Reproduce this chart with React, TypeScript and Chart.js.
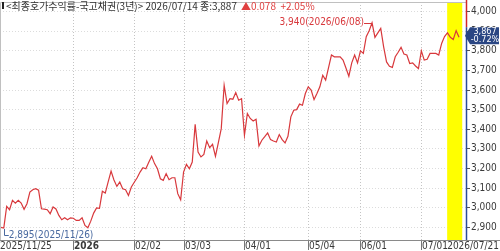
import React, { useEffect, useRef } from "react";
import { Chart, registerables } from "chart.js";

Chart.register(...registerables);

// daily closing yields (trading-day index 0 = 2025/11/25)
const values: number[] = [
  2898, 2895, 3005, 2988, 3036, 3022, 3036, 3022, 2990, 3019,
  3078, 3090, 3095, 3088, 2993, 2991, 2988, 2968, 3002, 2992,
  2959, 2937, 2947, 2937, 2947, 2945, 2934, 2934, 2947, 2908,
  2896, 2930, 2971, 2997, 2995, 3082, 3073, 3130, 3185, 3140,
  3107, 3129, 3095, 3090, 3061, 3104, 3128, 3151, 3180, 3202,
  3197, 3230, 3260, 3223, 3197, 3146, 3138, 3172, 3141, 3151,
  3151, 3070, 3039, 3180, 3219, 3197, 3231, 3423, 3282, 3257,
  3270, 3338, 3304, 3321, 3260, 3330, 3401, 3622, 3529, 3554,
  3551, 3585, 3546, 3554, 3367, 3478, 3453, 3440, 3449, 3313,
  3342, 3360, 3379, 3345, 3338, 3333, 3371, 3345, 3328, 3362,
  3461, 3495, 3498, 3526, 3520, 3580, 3614, 3597, 3549, 3580,
  3614, 3673, 3648, 3712, 3776, 3767, 3767, 3767, 3750, 3710,
  3668, 3736, 3776, 3736, 3797, 3784, 3869, 3900, 3940, 3866,
  3889, 3912, 3818, 3741, 3719, 3713, 3767, 3790, 3815, 3781,
  3776, 3733, 3736, 3720, 3707, 3797, 3750, 3754, 3784, 3784,
  3784, 3776, 3835, 3870, 3889, 3866, 3855, 3900, 3867,
];

const tickIndex: number[] = [0, 25, 46, 63, 84, 106, 124, 145];
const tickLabels: string[] = ["2025/11/25", "2026", "02/02", "03/03", "04/01", "05/04", "06/01", "07/01"];
const boldTick = "2026";
const endLabel = "2026/07/21";
const xMin = -0.3;
const xMax = 160.4;

const yTicks: number[] = [2900, 3000, 3100, 3200, 3300, 3400, 3500, 3600, 3700, 3800, 3900, 4000];
const yMin = 2834;
const yMax = 4046;

const headerTitle = "<최종호가수익률-국고채권(3년)> 2026/07/14 종:3,887";
const headerChange = "▲0.078  +2.05%";

const maxIndex = 128;
const maxLabel = "3,940(2026/06/08)";
const minIndex = 1;
const minLabel = "2,895(2025/11/26)";

const lastLabel = "3,867";
const lastChange = "-0.72%";

const bandStart = 153.9;
const bandEnd = 159.1;

const fmt = (v: number) => v.toLocaleString("en-US");

const NUM_FONT = "'Liberation Sans Narrow', 'DejaVu Sans Condensed', 'Liberation Sans', sans-serif";
const KR_FONT = "'Noto Sans CJK KR', 'Liberation Sans', sans-serif";

const LINE_RED = "#d8383c";
const AXIS_BLUE = "#2c4d96";

const decorPlugin = {
  id: "decor",
  beforeDraw(chart: any) {
    const { ctx, chartArea: a, scales } = chart;
    const x = scales.x;
    const y = scales.y;
    ctx.save();
    ctx.fillStyle = "#ffffff";
    ctx.fillRect(0, 0, chart.width, chart.height);
    // horizontal grid
    ctx.strokeStyle = "#dcdcdc";
    ctx.lineWidth = 1;
    ctx.setLineDash([1, 2]);
    for (const t of yTicks) {
      const py = Math.round(y.getPixelForValue(t)) + 0.5;
      ctx.beginPath();
      ctx.moveTo(a.left, py);
      ctx.lineTo(a.right, py);
      ctx.stroke();
    }
    // vertical grid
    ctx.strokeStyle = "#c4c4c4";
    for (let k = 1; k < tickIndex.length; k++) {
      const px = Math.round(x.getPixelForValue(tickIndex[k])) + 0.5;
      ctx.beginPath();
      ctx.moveTo(px, a.top);
      ctx.lineTo(px, a.bottom);
      ctx.stroke();
    }
    ctx.setLineDash([]);
    ctx.restore();
  },
  beforeDatasetsDraw(chart: any) {
    const { ctx, chartArea: a, scales } = chart;
    const x = scales.x;
    ctx.save();
    ctx.fillStyle = "#ffff00";
    const x0 = x.getPixelForValue(bandStart);
    const x1 = x.getPixelForValue(bandEnd);
    ctx.fillRect(x0, a.top, x1 - x0, a.bottom - a.top);
    ctx.restore();
  },
  afterDraw(chart: any) {
    const { ctx, chartArea: a, scales } = chart;
    const x = scales.x;
    const y = scales.y;
    ctx.save();
    // frame
    ctx.strokeStyle = "#c0c0c0";
    ctx.lineWidth = 1;
    ctx.beginPath();
    ctx.moveTo(a.left + 0.5, a.bottom);
    ctx.lineTo(a.left + 0.5, a.top + 0.5);
    ctx.lineTo(a.right, a.top + 0.5);
    ctx.stroke();
    // x axis line
    ctx.strokeStyle = "#8a8a8a";
    ctx.beginPath();
    ctx.moveTo(a.left, a.bottom + 0.5);
    ctx.lineTo(chart.width, a.bottom + 0.5);
    ctx.stroke();

    // x tick labels
    ctx.textBaseline = "alphabetic";
    ctx.fillStyle = "#3a3a3a";
    for (let k = 0; k < tickIndex.length; k++) {
      const px = Math.round(x.getPixelForValue(tickIndex[k]));
      const lbl = tickLabels[k];
      if (k > 0) {
        ctx.strokeStyle = "#777777";
        ctx.beginPath();
        ctx.moveTo(px + 0.5, a.bottom + 1);
        ctx.lineTo(px + 0.5, a.bottom + 10);
        ctx.stroke();
      }
      ctx.font = (lbl === boldTick ? "bold " : "") + "10px " + NUM_FONT;
      ctx.textAlign = "left";
      ctx.fillText(lbl, k === 0 ? 0 : px + 1, a.bottom + 9);
    }
    ctx.font = "10px " + NUM_FONT;
    ctx.textAlign = "right";
    ctx.fillText(endLabel, chart.width - 1, a.bottom + 9);

    // right axis
    const lastIdx = values.length - 1;
    const lastY = y.getPixelForValue(values[lastIdx]);
    const boxTop = lastY - 10;
    const boxBot = lastY + 7;
    const ax = a.right + 0.5;
    ctx.lineWidth = 1.5;
    ctx.strokeStyle = "#d02828";
    ctx.beginPath();
    ctx.moveTo(ax, 0);
    ctx.lineTo(ax, boxTop);
    ctx.stroke();
    ctx.strokeStyle = AXIS_BLUE;
    ctx.beginPath();
    ctx.moveTo(ax, boxTop);
    ctx.lineTo(ax, a.bottom);
    ctx.stroke();
    ctx.lineWidth = 1;

    // y tick labels
    ctx.font = "10px " + NUM_FONT;
    ctx.textAlign = "left";
    ctx.textBaseline = "middle";
    for (const t of yTicks) {
      const py = Math.round(y.getPixelForValue(t)) + 0.5;
      ctx.strokeStyle = "#555555";
      ctx.beginPath();
      ctx.moveTo(a.right + 1, py);
      ctx.lineTo(a.right + 4, py);
      ctx.stroke();
      ctx.fillStyle = "#3a3a3a";
      ctx.fillText(fmt(t), a.right + 5, py);
    }

    // value box
    const bx = a.right + 2;
    ctx.fillStyle = "#2a4683";
    ctx.beginPath();
    ctx.moveTo(bx - 3, (boxTop + boxBot) / 2);
    ctx.lineTo(bx + 2, boxTop);
    ctx.lineTo(chart.width - 1, boxTop);
    ctx.lineTo(chart.width - 1, boxBot);
    ctx.lineTo(bx + 2, boxBot);
    ctx.closePath();
    ctx.fill();
    ctx.fillStyle = "#ffffff";
    ctx.textAlign = "center";
    ctx.font = "9px " + NUM_FONT;
    const cx = (bx + chart.width) / 2 + 1;
    ctx.fillText(lastLabel, cx, boxTop + 4.5);
    ctx.fillText(lastChange, cx, boxTop + 12.5);

    // max annotation
    ctx.font = "10px " + NUM_FONT;
    const mx = x.getPixelForValue(maxIndex);
    const my = y.getPixelForValue(values[maxIndex]);
    ctx.strokeStyle = LINE_RED;
    ctx.beginPath();
    ctx.moveTo(mx - 8, Math.round(my) + 0.5);
    ctx.lineTo(mx, Math.round(my) + 0.5);
    ctx.stroke();
    ctx.fillStyle = LINE_RED;
    ctx.textAlign = "right";
    ctx.textBaseline = "middle";
    ctx.fillText(maxLabel, mx - 8, my);

    // min annotation
    const nx = x.getPixelForValue(minIndex);
    const ny = y.getPixelForValue(values[minIndex]);
    const ly = a.bottom - 4.5;
    ctx.strokeStyle = "#4a6aa0";
    ctx.beginPath();
    ctx.moveTo(Math.round(nx) + 0.5, ny + 1);
    ctx.lineTo(Math.round(nx) + 0.5, ly);
    ctx.lineTo(nx + 5, ly);
    ctx.stroke();
    ctx.fillStyle = "#4a6aa0";
    ctx.textAlign = "left";
    ctx.fillText(minLabel, nx + 5, ly);

    // header
    ctx.fillStyle = "#222222";
    ctx.fillRect(2, 2, 2, 7);
    ctx.font = "10px " + KR_FONT;
    ctx.textAlign = "left";
    ctx.textBaseline = "middle";
    ctx.fillStyle = "#333333";
    ctx.fillText(headerTitle, 6, 6);
    const w = ctx.measureText(headerTitle).width;
    ctx.fillStyle = "#e04040";
    ctx.fillText(headerChange, 6 + w + 4, 6);
    ctx.restore();
  },
};

export default function App() {
  const ref = useRef<HTMLCanvasElement | null>(null);
  useEffect(() => {
    document.body.style.margin = "0";
    if (!ref.current) return;
    const chart = new Chart(ref.current, {
      type: "line",
      data: {
        datasets: [
          {
            data: values.map((v, i) => ({ x: i, y: v })),
            borderColor: LINE_RED,
            borderWidth: 1.2,
            pointRadius: 0,
            tension: 0,
            fill: false,
          },
        ],
      },
      options: {
        responsive: false,
        animation: false,
        devicePixelRatio: 1,
        layout: { padding: { left: 0, right: 34, top: 2, bottom: 11 } },
        plugins: { legend: { display: false }, tooltip: { enabled: false } },
        scales: {
          x: { type: "linear", display: false, min: xMin, max: xMax },
          y: { type: "linear", display: false, position: "right", min: yMin, max: yMax },
        },
      },
      plugins: [decorPlugin],
    } as any);
    return () => chart.destroy();
  }, []);
  return (
    <div style={{ position: "fixed", left: 0, top: 0, width: 500, height: 251 }}>
      <canvas ref={ref} width={500} height={251} style={{ display: "block" }} />
    </div>
  );
}
